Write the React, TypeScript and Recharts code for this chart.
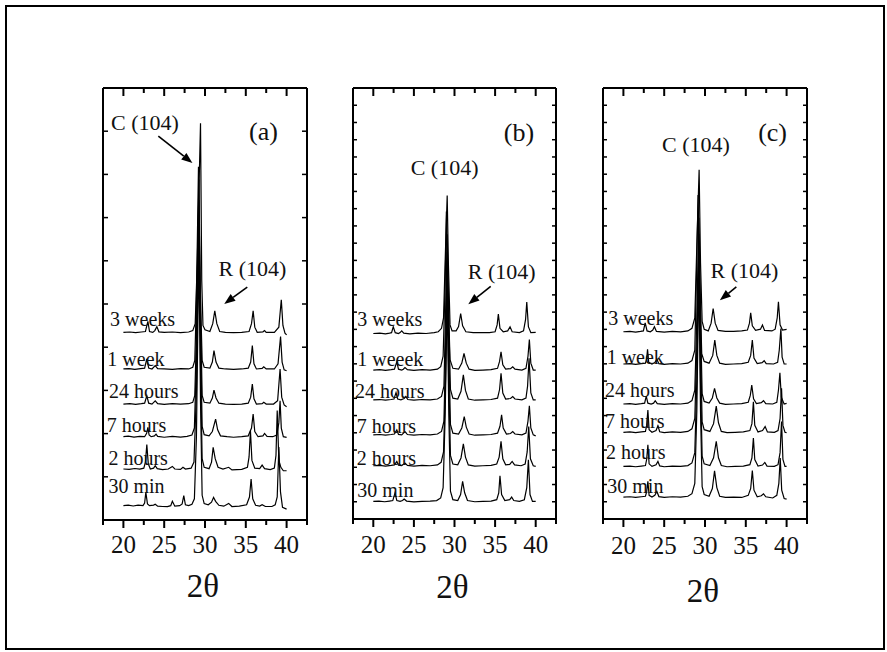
import React from 'react';
import { LineChart, Line, XAxis, YAxis, ReferenceDot, ReferenceLine, Label } from 'recharts';

type Pt = [number, number];

const SERIF = '"Liberation Serif", "Times New Roman", serif';
const INK = '#111';

// ---------- categories / tick labels ----------
const sampleNamesAC = ['30 min', '2 hours', '7 hours', '24 hours', '1 week', '3 weeks'];
const sampleNamesB = ['30 min', '2 hours', '7 hours', '24 hours', '1 weeek', '3 weeks'];
const xTicks = [17.5, 20, 22.5, 25, 27.5, 30, 32.5, 35, 37.5, 40, 42.5];
const xLabelTicks = [20, 25, 30, 35, 40];
const yTicksA = [0, 2.5, 5, 7.5, 10, 12.5, 15, 17.5, 20, 22.5, 25];
const yTicksBC = [0, 1, 2, 3, 4, 5, 6, 7, 8, 9, 10, 11, 12, 13, 14, 15, 16, 17, 18, 19, 20, 21, 22, 23, 24, 25];

// ---------- stacking offsets (a.u.) ----------
const offsetsA = [0.83, 2.95, 4.82, 6.71, 8.74, 10.86];
const offsetsB = [1.02, 3.09, 4.88, 6.91, 8.64, 10.76];
const offsetsC = [1.27, 3.05, 5.03, 6.67, 8.99, 10.86];

// ---------- panel (a) traces: [2theta, intensity] ----------
const a30min: Pt[] = [[20.0,0],[20.6,0.03],[21.2,-0.02],[21.8,0.03],[22.4,0],[22.6,0.15],[22.75,0.77],[22.95,0.1],[23.2,0],[23.7,0.03],[23.9,0.08],[24.2,-0.03],[24.8,-0.05],[25.4,-0.06],[25.8,0],[26.0,0.25],[26.3,-0.03],[26.9,0],[27.2,0.1],[27.4,0.58],[27.6,0.05],[28.0,0],[28.4,0.08],[28.7,0.4],[28.95,4.0],[29.25,15.0],[29.45,6],[29.65,0.6],[29.9,0.12],[30.4,0.05],[30.8,0.2],[31.05,0.48],[31.3,0.25],[31.7,0.02],[32.3,-0.03],[32.9,0.13],[33.3,-0.05],[34.2,-0.03],[35.1,0.05],[35.45,0.5],[35.65,1.54],[35.85,0.4],[36.2,0.02],[36.7,-0.02],[37.0,0.06],[37.4,-0.05],[38.2,-0.05],[38.6,0.05],[38.85,0.5],[39.05,3.4],[39.25,0.8],[39.5,-0.1],[40.0,-0.2]];
const a2h: Pt[] = [[20.0,0],[20.7,-0.02],[21.4,0.03],[22.0,0],[22.5,0.05],[22.7,0.4],[22.87,1.41],[23.05,0.3],[23.3,0],[23.7,0.05],[23.9,0.19],[24.15,0.02],[24.8,-0.03],[25.5,0],[26.0,0.15],[26.3,0],[27.0,-0.02],[27.3,0.1],[27.6,0],[28.3,0.05],[28.65,0.4],[28.95,4.5],[29.25,14.75],[29.45,6],[29.65,0.6],[29.9,0.1],[30.5,0.02],[30.8,0.4],[31.0,1.25],[31.25,0.6],[31.6,0.1],[32.2,0],[32.9,0.1],[33.3,-0.05],[34.5,-0.02],[35.2,0.1],[35.4,0.7],[35.57,2.22],[35.75,0.5],[36.1,0.05],[36.7,0.02],[37.0,0.23],[37.3,0.02],[38.0,-0.03],[38.5,0.05],[38.7,0.8],[38.85,3.38],[39.05,0.5],[39.3,0.1],[39.6,-0.1],[40.0,-0.1]];
const a7h: Pt[] = [[20.0,0],[20.6,0.03],[21.3,-0.02],[22.0,0.02],[22.6,0],[22.85,0.2],[23.0,0.54],[23.15,0.1],[23.4,0],[23.8,0.05],[24.0,0.15],[24.2,0.02],[25.0,-0.03],[26.0,0.02],[27.0,-0.02],[27.8,0.02],[28.4,0.1],[28.7,0.5],[28.95,4.5],[29.25,13.7],[29.45,6],[29.65,0.6],[29.9,0.12],[30.5,0.05],[30.9,0.3],[31.3,1.02],[31.55,0.4],[31.9,0.05],[32.7,0],[33.5,-0.03],[34.5,0],[35.3,0.05],[35.7,0.5],[35.9,1.31],[36.1,0.3],[36.5,0],[37.1,0.05],[37.3,0.19],[37.6,0.02],[38.3,0],[38.8,0.1],[39.05,0.8],[39.2,2.08],[39.35,0.5],[39.6,0],[40.0,-0.04]];
const a24h: Pt[] = [[20.0,0],[20.8,0.02],[21.5,-0.02],[22.2,0.02],[22.6,0.05],[22.87,0.48],[23.1,0.05],[23.5,0],[23.9,0.19],[24.2,0.02],[25.0,-0.02],[26.0,0.02],[27.0,0],[28.0,0.02],[28.5,0.1],[28.75,0.5],[28.95,4.0],[29.25,13.0],[29.45,5.5],[29.65,0.5],[29.9,0.1],[30.6,0.05],[30.9,0.35],[31.1,0.81],[31.35,0.35],[31.7,0.05],[32.5,0],[33.5,-0.02],[34.5,0],[35.3,0.05],[35.6,0.4],[35.8,1.16],[36.0,0.3],[36.3,0],[37.0,0.02],[37.2,0.1],[37.5,0],[38.4,0],[38.9,0.2],[39.2,2.03],[39.4,0.4],[39.7,-0.05],[40.0,-0.15]];
const a1w: Pt[] = [[20.0,0],[20.7,0.02],[21.4,-0.02],[22.1,0.02],[22.6,0.05],[22.87,0.58],[23.1,0.05],[23.5,0],[23.9,0.19],[24.2,0.02],[25.0,0],[26.0,-0.02],[27.0,0.02],[28.0,0],[28.5,0.1],[28.75,0.5],[28.95,4.0],[29.2,11.7],[29.4,5],[29.65,0.5],[29.9,0.1],[30.6,0.05],[30.9,0.4],[31.1,1.06],[31.35,0.4],[31.7,0.05],[32.5,0],[33.5,-0.02],[34.5,0],[35.3,0.05],[35.6,0.4],[35.8,1.35],[36.0,0.3],[36.3,0],[37.0,0.03],[37.2,0.13],[37.5,0],[38.5,0],[38.95,0.3],[39.26,1.87],[39.45,0.4],[39.7,-0.05],[40.0,-0.1]];
const a3w: Pt[] = [[20.0,0],[20.8,0.02],[21.5,-0.02],[22.2,0.02],[22.7,0.05],[23.0,0.64],[23.2,0.05],[23.6,0],[23.85,0.1],[24.1,0.33],[24.35,0.03],[25.0,0],[26.0,0.02],[27.0,-0.02],[28.0,0.02],[28.5,0.1],[28.8,0.5],[29.05,4.0],[29.45,12.1],[29.6,3],[29.75,0.4],[30.0,0.15],[30.6,0.05],[30.95,0.5],[31.2,1.25],[31.45,0.5],[31.8,0.05],[32.5,0],[33.5,-0.02],[34.5,0],[35.4,0.05],[35.7,0.5],[35.9,1.25],[36.1,0.3],[36.4,0],[37.1,0.03],[37.3,0.1],[37.5,0],[38.5,0],[39.05,0.3],[39.35,1.89],[39.55,0.4],[39.8,-0.05],[40.0,-0.15]];

// ---------- panel (b) traces ----------
const b30min: Pt[] = [[20.0,0],[20.7,0.02],[21.4,-0.02],[22.0,0.02],[22.4,0.05],[22.67,0.48],[22.9,0.05],[23.3,0],[23.6,0.05],[23.8,0.14],[24.1,0.02],[25.0,-0.03],[26.0,0],[27.0,0.02],[27.8,0.05],[28.3,0.2],[28.6,0.8],[28.85,5],[29.1,12.0],[29.3,5],[29.5,0.6],[29.8,0.1],[30.4,0.05],[30.75,0.4],[31.0,1.16],[31.25,0.5],[31.6,0.05],[32.5,-0.02],[33.5,0],[34.5,0.02],[35.2,0.1],[35.45,0.5],[35.6,1.49],[35.8,0.4],[36.2,0.05],[36.8,0.1],[37.04,0.25],[37.3,0.05],[38.0,0],[38.6,0.1],[38.9,0.8],[39.1,2.41],[39.3,0.4],[39.6,0],[40.0,0]];
const b2h: Pt[] = [[20.0,0],[20.8,0.02],[21.5,-0.02],[22.2,0.02],[22.6,0.05],[22.9,0.25],[23.1,0.03],[23.5,0],[23.9,0.15],[24.2,0.02],[25.0,-0.02],[26.0,0.02],[27.0,0],[27.9,0.05],[28.35,0.2],[28.65,0.8],[28.9,5],[29.1,11.4],[29.3,5],[29.5,0.6],[29.8,0.1],[30.4,0.05],[30.8,0.45],[31.09,1.27],[31.35,0.5],[31.7,0.05],[32.5,-0.02],[33.5,0],[34.5,0.02],[35.2,0.1],[35.5,0.5],[35.73,1.41],[35.95,0.4],[36.3,0.05],[36.8,0.08],[37.1,0.25],[37.4,0.05],[38.2,0],[38.7,0.1],[38.95,0.8],[39.14,2.28],[39.35,0.4],[39.7,0],[40.0,-0.04]];
const b7h: Pt[] = [[20.0,0],[20.8,0.02],[21.5,-0.02],[22.2,0.02],[22.6,0.05],[22.9,0.29],[23.1,0.03],[23.5,0],[23.9,0.19],[24.2,0.02],[25.0,-0.02],[26.0,0.02],[27.0,0],[27.9,0.05],[28.4,0.2],[28.7,0.8],[28.9,5],[29.1,10.6],[29.3,5],[29.5,0.6],[29.8,0.1],[30.5,0.05],[30.9,0.4],[31.2,1.06],[31.45,0.45],[31.8,0.05],[32.5,-0.02],[33.5,0],[34.5,0.02],[35.3,0.1],[35.6,0.5],[35.8,1.16],[36.0,0.4],[36.4,0.05],[36.9,0.08],[37.17,0.19],[37.45,0.05],[38.3,0],[38.8,0.1],[39.05,0.8],[39.22,1.68],[39.4,0.4],[39.7,0],[40.0,-0.06]];
const b24h: Pt[] = [[20.0,0],[20.8,0.02],[21.5,-0.02],[22.2,0.02],[22.55,0.05],[22.8,0.42],[23.0,0.05],[23.4,0],[23.8,0.08],[24.0,0.19],[24.25,0.02],[25.0,-0.02],[26.0,0.02],[27.0,0],[27.9,0.05],[28.4,0.2],[28.7,0.8],[28.9,5],[29.1,9.6],[29.3,4.5],[29.5,0.6],[29.8,0.1],[30.4,0.05],[30.8,0.5],[31.09,1.45],[31.35,0.55],[31.7,0.05],[32.5,-0.02],[33.5,0],[34.5,0.02],[35.3,0.1],[35.55,0.6],[35.73,1.54],[35.95,0.4],[36.3,0.05],[36.9,0.08],[37.17,0.19],[37.45,0.05],[38.3,0],[38.8,0.1],[39.0,0.8],[39.18,2.41],[39.4,0.4],[39.7,0],[40.0,0]];
const b1w: Pt[] = [[20.0,0],[20.8,0.02],[21.5,-0.02],[22.2,0.02],[22.6,0.05],[22.9,0.48],[23.1,0.05],[23.5,0],[23.7,0.05],[23.9,0.14],[24.2,0.02],[25.0,-0.02],[26.0,0.02],[27.0,0],[27.9,0.05],[28.3,0.2],[28.6,0.8],[28.85,5],[29.0,9.2],[29.2,4.5],[29.45,0.6],[29.8,0.1],[30.5,0.05],[30.9,0.4],[31.17,0.96],[31.45,0.4],[31.8,0.05],[32.5,-0.02],[33.5,0],[34.5,0.02],[35.3,0.1],[35.55,0.5],[35.73,1.06],[35.95,0.3],[36.3,0.05],[36.9,0.08],[37.17,0.19],[37.45,0.05],[38.3,0],[38.8,0.1],[39.05,0.8],[39.22,1.77],[39.4,0.4],[39.7,0],[40.0,0]];
const b3w: Pt[] = [[20.0,0],[20.8,0.02],[21.5,-0.02],[22.0,0.02],[22.25,0.05],[22.46,0.39],[22.7,0.05],[23.1,0],[23.3,0.05],[23.5,0.15],[23.75,0.02],[24.5,-0.02],[25.5,0.02],[26.5,0],[27.5,0.05],[28.0,0.1],[28.4,0.3],[28.65,0.9],[28.9,5],[29.1,8.0],[29.25,4],[29.45,0.5],[29.7,0.15],[30.2,0.15],[30.5,0.4],[30.76,1.16],[31.0,0.45],[31.4,0.1],[32.3,0.05],[33.3,0.05],[34.3,0.05],[35.0,0.1],[35.25,0.5],[35.4,1.12],[35.6,0.3],[36.0,0.1],[36.55,0.15],[36.84,0.39],[37.1,0.1],[38.0,0.05],[38.5,0.15],[38.75,0.8],[38.9,1.83],[39.1,0.4],[39.4,0.05],[40.0,0.06]];

// ---------- panel (c) traces ----------
const c30min: Pt[] = [[20.0,0],[20.8,0.02],[21.5,-0.02],[22.2,0.02],[22.7,0.05],[22.85,0.3],[23.0,0.91],[23.15,0.1],[23.5,0],[23.85,0.1],[24.1,0.33],[24.35,0.03],[25.0,-0.02],[26.0,0.02],[27.0,0],[27.9,0.05],[28.4,0.2],[28.75,0.8],[29.0,5],[29.25,13.2],[29.45,5],[29.65,0.6],[29.9,0.15],[30.5,0.05],[30.9,0.5],[31.17,1.52],[31.45,0.55],[31.8,0.05],[32.5,-0.02],[33.5,0],[34.5,-0.02],[35.3,0.1],[35.6,0.5],[35.8,1.54],[36.0,0.4],[36.4,0.02],[36.9,0.08],[37.17,0.19],[37.45,0.02],[38.3,-0.05],[38.8,0.1],[39.05,0.8],[39.22,2.26],[39.4,0.4],[39.7,-0.08],[40.0,-0.12]];
const c2h: Pt[] = [[20.0,0],[20.8,0.02],[21.5,-0.02],[22.2,0.02],[22.7,0.05],[22.85,0.4],[23.0,1.25],[23.15,0.15],[23.5,0],[24.0,0.1],[24.23,0.29],[24.45,0.03],[25.0,-0.02],[26.0,0.02],[27.0,0],[27.9,0.05],[28.4,0.2],[28.75,0.8],[29.0,5],[29.25,12.4],[29.45,5],[29.65,0.6],[29.9,0.15],[30.6,0.05],[31.05,0.5],[31.38,1.45],[31.65,0.5],[32.0,0.05],[32.7,-0.02],[33.7,0],[34.7,0.02],[35.5,0.1],[35.75,0.5],[35.93,1.64],[36.1,0.4],[36.5,0.02],[37.05,0.08],[37.33,0.23],[37.6,0.02],[38.5,0],[38.95,0.1],[39.2,0.8],[39.38,2.6],[39.55,0.4],[39.8,0],[40.0,0]];
const c7h: Pt[] = [[20.0,0],[20.8,0.02],[21.5,-0.02],[22.2,0.02],[22.7,0.05],[22.85,0.4],[23.0,1.29],[23.15,0.15],[23.5,0],[24.0,0.1],[24.23,0.37],[24.45,0.03],[25.0,-0.02],[26.0,0.02],[27.0,0],[27.9,0.05],[28.4,0.2],[28.75,0.8],[29.0,5],[29.25,11.5],[29.45,5],[29.65,0.6],[29.9,0.15],[30.6,0.05],[31.05,0.5],[31.38,1.52],[31.65,0.55],[32.0,0.05],[32.7,-0.02],[33.7,0],[34.7,0.02],[35.5,0.1],[35.75,0.5],[35.93,1.77],[36.1,0.4],[36.5,0.02],[37.05,0.1],[37.37,0.33],[37.65,0.02],[38.5,0],[38.95,0.1],[39.2,0.8],[39.38,2.55],[39.55,0.4],[39.8,0],[40.0,-0.02]];
const c24h: Pt[] = [[20.0,0],[20.8,0.02],[21.5,-0.02],[22.2,0.02],[22.6,0.05],[22.8,0.46],[23.0,0.05],[23.4,0],[23.7,0.05],[23.9,0.19],[24.15,0.02],[25.0,-0.02],[26.0,0.02],[27.0,0],[27.9,0.05],[28.4,0.2],[28.75,0.8],[29.0,5],[29.25,10.8],[29.45,5],[29.65,0.6],[29.9,0.15],[30.5,0.05],[30.9,0.35],[31.17,0.91],[31.45,0.35],[31.8,0.05],[32.5,-0.02],[33.5,0],[34.5,0.02],[35.3,0.1],[35.55,0.5],[35.73,1.1],[35.95,0.3],[36.3,0.02],[36.9,0.08],[37.17,0.19],[37.45,0.02],[38.3,0],[38.8,0.1],[39.0,0.8],[39.18,1.81],[39.35,0.4],[39.7,0],[40.0,0.04]];
const c1w: Pt[] = [[20.0,0],[20.8,0.02],[21.5,-0.02],[22.2,0.02],[22.7,0.05],[22.85,0.3],[22.96,0.85],[23.1,0.1],[23.5,0],[23.85,0.08],[24.1,0.27],[24.35,0.02],[25.0,-0.02],[26.0,0.02],[27.0,0],[27.9,0.05],[28.4,0.2],[28.75,0.8],[28.95,5],[29.15,9.8],[29.35,5],[29.6,0.6],[29.9,0.15],[30.5,0.05],[30.95,0.5],[31.2,1.39],[31.45,0.5],[31.8,0.05],[32.5,-0.02],[33.5,0],[34.5,0.02],[35.3,0.1],[35.6,0.5],[35.8,1.39],[36.0,0.35],[36.4,0.02],[37.0,0.08],[37.25,0.19],[37.5,0.02],[38.4,0],[38.9,0.1],[39.1,0.8],[39.3,2.06],[39.45,0.4],[39.7,0],[40.0,0]];
const c3w: Pt[] = [[20.0,0],[20.8,0.02],[21.5,-0.02],[22.1,0.02],[22.45,0.05],[22.67,0.52],[22.9,0.05],[23.3,0],[23.6,0.1],[23.8,0.29],[24.05,0.02],[25.0,-0.02],[26.0,0.02],[27.0,0],[27.9,0.05],[28.4,0.2],[28.75,0.8],[29.0,5],[29.28,9.4],[29.45,4],[29.65,0.6],[29.9,0.15],[30.4,0.05],[30.75,0.5],[31.0,1.35],[31.25,0.5],[31.6,0.08],[32.5,0.02],[33.5,0.02],[34.5,0.05],[35.2,0.1],[35.45,0.5],[35.6,1.1],[35.8,0.35],[36.2,0.08],[36.8,0.15],[37.04,0.39],[37.3,0.08],[38.2,0.05],[38.6,0.15],[38.85,0.8],[39.0,1.74],[39.2,0.4],[39.5,0.1],[40.0,0.14]];

// ---------- layout / annotation specs ----------
interface PanelSpec {
  left: number; top: number; width: number; height: number;
  traces: Pt[][]; offsets: number[]; names: string[];
  nameX: number[]; nameY: number[];
  yTicks: number[]; yTickLen: number;
  tag: string; tagPos: Pt;
  cPos: Pt; cArrow: [Pt, Pt] | null;
  rPos: Pt; rArrow: [Pt, Pt];
  tickLabelDy: number; axisLabelDy: number;
}

const panels: PanelSpec[] = [
  {
    left: 103, top: 88, width: 204, height: 432,
    traces: [a30min, a2h, a7h, a24h, a1w, a3w], offsets: offsetsA, names: sampleNamesAC,
    nameX: [18.16, 18.16, 17.96, 18.24, 18.03, 18.37], nameY: [1.56, 3.18, 5.09, 7.06, 8.91, 11.23],
    yTicks: yTicksA, yTickLen: 5,
    tag: '(a)', tagPos: [37.16, 21.99],
    cPos: [18.49, 22.57], cArrow: [[24.28, 22.22], [28.46, 20.66]],
    rPos: [31.66, 14.12], rArrow: [[35.18, 13.48], [32.36, 12.5]],
    tickLabelDy: 33, axisLabelDy: 77,
  },
  {
    left: 353, top: 88, width: 203, height: 431,
    traces: [b30min, b2h, b7h, b24h, b1w, b3w], offsets: offsetsB, names: sampleNamesB,
    nameX: [18.03, 17.95, 17.95, 17.75, 18.03, 18.03], nameY: [1.29, 3.14, 4.99, 7.02, 8.87, 11.19],
    yTicks: yTicksBC, yTickLen: 4,
    tag: '(b)', tagPos: [37.94, 21.95],
    cPos: [24.6, 19.98], cArrow: null,
    rPos: [31.63, 13.9], rArrow: [[34.46, 13.5], [31.7, 12.46]],
    tickLabelDy: 34, axisLabelDy: 79,
  },
  {
    left: 603, top: 88, width: 204, height: 431,
    traces: [c30min, c2h, c7h, c24h, c1w, c3w], offsets: offsetsC, names: sampleNamesAC,
    nameX: [18.03, 17.87, 17.75, 17.75, 17.95, 18.15], nameY: [1.52, 3.49, 5.28, 7.08, 8.99, 11.25],
    yTicks: yTicksBC, yTickLen: 4,
    tag: '(c)', tagPos: [38.28, 21.95],
    cPos: [24.73, 21.26], cArrow: null,
    rPos: [30.68, 13.97], rArrow: [[33.84, 13.46], [31.82, 12.69]],
    tickLabelDy: 35, axisLabelDy: 83,
  },
];

const X_DOMAIN: [number, number] = [17.5, 42.5];
const Y_DOMAIN: [number, number] = [0, 25];
const AXIS = { stroke: '#000', strokeWidth: 2 };

const BottomTick = (p: any) => {
  const v = p.payload.value;
  const major = xLabelTicks.includes(v);
  return (
    <g>
      <line x1={p.x} x2={p.x} y1={p.y} y2={p.y + (major ? 8 : 5)} stroke="#000" strokeWidth={2} />
      {major && (
        <text x={p.x} y={p.y + p.dyLabel} textAnchor="middle" fontFamily={SERIF} fontSize={25} fill={INK}>
          {v}
        </text>
      )}
    </g>
  );
};

const TopTick = (p: any) => {
  const v = p.payload.value;
  const major = xLabelTicks.includes(v);
  return <line x1={p.x} x2={p.x} y1={p.y} y2={p.y + (major ? 8 : 5)} stroke="#000" strokeWidth={2} />;
};

const SideTick = (p: any) => (
  <line x1={p.x} x2={p.x + p.dir * p.len} y1={p.y} y2={p.y} stroke="#000" strokeWidth={1.5} />
);

const arrowShape = (p: any) => {
  const { x1, y1, x2, y2 } = p;
  const dx = x2 - x1, dy = y2 - y1;
  const L = Math.hypot(dx, dy) || 1;
  const ux = dx / L, uy = dy / L;
  const hl = 11, hw = 4.2;
  const bx = x2 - ux * hl, by = y2 - uy * hl;
  return (
    <g>
      <line x1={x1} y1={y1} x2={bx} y2={by} stroke="#000" strokeWidth={1.6} />
      <polygon points={`${x2},${y2} ${bx - uy * hw},${by + ux * hw} ${bx + uy * hw},${by - ux * hw}`} fill="#000" />
    </g>
  );
};

const textDot = (txt: string, size: number, anchor: string) => (p: any) => (
  <text x={p.cx} y={p.cy} textAnchor={anchor} fontFamily={SERIF} fontSize={size} fill={INK}>
    {txt}
  </text>
);

function Panel({ s }: { s: PanelSpec }) {
  // axes take 1px each; margins are reduced by 1 so the plot box lands on s.left/s.top
  const M = { top: 19, right: 19, bottom: 109, left: 19 };
  return (
    <div style={{ position: 'absolute', left: s.left - 20, top: s.top - 20 }}>
      <LineChart width={s.width + 40} height={s.height + 130} margin={M}>
        <XAxis
          dataKey="x" type="number" domain={X_DOMAIN} ticks={xTicks} interval={0} allowDataOverflow
          height={1} tickSize={0} tickMargin={0} tickLine={false} axisLine={AXIS}
          tick={(p: any) => <BottomTick {...p} dyLabel={s.tickLabelDy} />}
          label={
            <Label
              content={(lp: any) => {
                const vb = lp.viewBox || {};
                return (
                  <text x={vb.x + vb.width / 2 - 2} y={vb.y + s.axisLabelDy} textAnchor="middle" fontFamily={SERIF} fontSize={33} fill={INK}>
                    2θ
                  </text>
                );
              }}
            />
          }
        />
        <XAxis
          xAxisId="top" orientation="top" dataKey="x" type="number" domain={X_DOMAIN} ticks={xTicks} interval={0}
          allowDataOverflow height={1} tickSize={0} tickMargin={0} tickLine={false} axisLine={AXIS}
          tick={(p: any) => <TopTick {...p} />}
        />
        <YAxis
          type="number" domain={Y_DOMAIN} ticks={s.yTicks} interval={0} allowDataOverflow
          width={1} tickSize={0} tickMargin={0} tickLine={false} axisLine={AXIS}
          tick={(p: any) => <SideTick {...p} dir={1} len={s.yTickLen} />}
        />
        <YAxis
          yAxisId="right" orientation="right" type="number" domain={Y_DOMAIN} ticks={s.yTicks} interval={0}
          allowDataOverflow width={1} tickSize={0} tickMargin={0} tickLine={false} axisLine={AXIS}
          tick={(p: any) => <SideTick {...p} dir={-1} len={s.yTickLen} />}
        />
        {s.traces.map((tr, i) => (
          <Line
            key={s.names[i]}
            data={tr.map(([x, v]) => ({ x, y: s.offsets[i] + v }))}
            dataKey="y" type="linear" stroke="#000" strokeWidth={1.2} dot={false}
            isAnimationActive={false} name={s.names[i]}
          />
        ))}
        {s.names.map((n, i) => (
          <ReferenceDot key={'lbl' + i} x={s.nameX[i]} y={s.nameY[i]} r={1} ifOverflow="visible" shape={textDot(n, 20, 'start')} />
        ))}
        <ReferenceDot x={s.tagPos[0]} y={s.tagPos[1]} r={1} ifOverflow="visible" shape={textDot(s.tag, 26, 'middle')} />
        <ReferenceDot x={s.cPos[0]} y={s.cPos[1]} r={1} ifOverflow="visible" shape={textDot('C (104)', 22, 'start')} />
        <ReferenceDot x={s.rPos[0]} y={s.rPos[1]} r={1} ifOverflow="visible" shape={textDot('R (104)', 22, 'start')} />
        {s.cArrow && (
          <ReferenceLine
            segment={[{ x: s.cArrow[0][0], y: s.cArrow[0][1] }, { x: s.cArrow[1][0], y: s.cArrow[1][1] }]}
            ifOverflow="visible" shape={arrowShape}
          />
        )}
        <ReferenceLine
          segment={[{ x: s.rArrow[0][0], y: s.rArrow[0][1] }, { x: s.rArrow[1][0], y: s.rArrow[1][1] }]}
          ifOverflow="visible" shape={arrowShape}
        />
      </LineChart>
    </div>
  );
}

export default function App() {
  return (
    <div style={{ position: 'absolute', left: 0, top: 0, width: 887, height: 652, background: '#fff', overflow: 'hidden' }}>
      <div style={{ position: 'absolute', left: 5, top: 5, width: 876, height: 641, border: '2px solid #000' }} />
      {panels.map((s) => (
        <Panel key={s.tag} s={s} />
      ))}
    </div>
  );
}
